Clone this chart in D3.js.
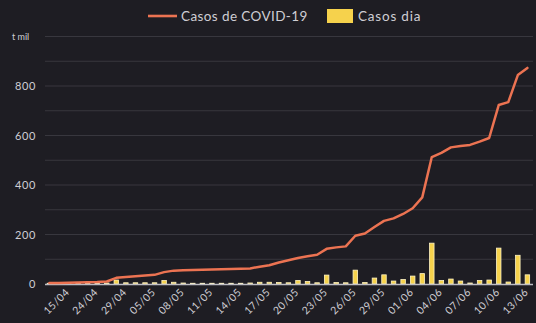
<!DOCTYPE html>
<html>
<head>
<meta charset="utf-8">
<script src="https://cdn.jsdelivr.net/npm/d3@7"></script>
<style>
  html, body { margin: 0; padding: 0; background: #1e1d23; }
  svg { display: block; }
  text { font-family: Lato, "Open Sans", sans-serif; }
</style>
</head>
<body>
<svg id="chart" width="536" height="323"></svg>
<script>
// Dates shown on the category axis (one entry per data point)
const dates = [
  "09/04", "12/04", "15/04", "18/04", "21/04", "24/04", "26/04", "27/04", "29/04",
  "01/05", "03/05", "05/05", "06/05", "07/05", "08/05", "09/05", "10/05", "11/05",
  "12/05", "13/05", "14/05", "15/05", "16/05", "17/05", "18/05", "19/05", "20/05",
  "21/05", "22/05", "23/05", "24/05", "25/05", "26/05", "27/05", "28/05", "29/05",
  "30/05", "31/05", "01/06", "02/06", "03/06", "04/06", "05/06", "06/06", "07/06",
  "08/06", "09/06", "10/06", "11/06", "12/06", "13/06"
];

// Accumulated cases (thousands)
const cumulative = [
  4, 4, 5, 6, 7, 8, 10, 25, 28,
  31, 34, 37, 48, 54, 56, 57, 58, 59,
  60, 61, 62, 63, 70, 76, 87, 96, 105,
  112, 118, 142, 148, 152, 195, 204, 230, 255,
  265, 283, 306, 350, 513, 530, 552, 558, 562,
  575, 590, 723, 735, 844, 873
];

// New cases per day (thousands)
const daily = [
  1, 1, 1, 1, 1, 1, 2, 14, 3,
  3, 3, 3, 12, 5, 2, 1, 1, 1,
  1, 1, 1, 2, 5, 5, 4, 3, 12,
  8, 3, 34, 4, 3, 54, 4, 22, 35,
  10, 16, 30, 40, 163, 12, 18, 10, 2,
  12, 14, 143, 6, 114, 35
];

const yTicks = [0, 100, 200, 300, 400, 500, 600, 700, 800, 900, 1000];
const yLabels = [0, 200, 400, 600, 800];
const yUnit = "t mil";
const seriesNames = ["Casos de COVID-19", "Casos dia"];
const colors = { line: "#ec7352", bar: "#f6d24c", barEdge: "#fff4c4", grid: "#38373e", axis: "#bdbcc2", text: "#cfced4" };

const svg = d3.select("#chart");
const W = 536, H = 323;
const plot = { left: 45, right: 533, top: 36.5, bottom: 284 };

const x = d3.scalePoint().domain(dates).range([49.4, 527.4]);
const y = d3.scaleLinear().domain([0, 1000]).range([plot.bottom, plot.top]);

svg.append("rect").attr("width", W).attr("height", H).attr("fill", "#1e1d23");

// Horizontal gridlines
svg.append("g").selectAll("line").data(yTicks.filter(d => d > 0)).join("line")
  .attr("x1", plot.left).attr("x2", plot.right)
  .attr("y1", d => y(d)).attr("y2", d => y(d))
  .attr("stroke", colors.grid).attr("stroke-width", 1.2);

// Y labels
svg.append("g").selectAll("text").data(yLabels).join("text")
  .attr("x", 36).attr("y", d => y(d) + 4)
  .attr("text-anchor", "end").attr("font-size", 11).attr("letter-spacing", 0.6)
  .attr("fill", colors.text)
  .text(d => d);
svg.append("text").attr("x", 12).attr("y", y(1000) + 3)
  .attr("font-size", 9).attr("fill", colors.text).text(yUnit);

// Daily bars
const barW = 4.5;
svg.append("g").selectAll("rect").data(dates).join("rect")
  .attr("x", d => x(d) - barW / 2)
  .attr("width", barW)
  .attr("y", (d, i) => y(daily[i]) - 0.5)
  .attr("height", (d, i) => Math.max(0, y(0) - y(daily[i])) + 0.5)
  .attr("fill", colors.bar)
  .attr("stroke", colors.barEdge).attr("stroke-width", 0.8);

// X axis line
svg.append("line")
  .attr("x1", plot.left).attr("x2", plot.right)
  .attr("y1", plot.bottom + 0.5).attr("y2", plot.bottom + 0.5)
  .attr("stroke", colors.axis).attr("stroke-width", 1.5);

// Accumulated cases line
const line = d3.line().x((d, i) => x(dates[i])).y(d => y(d));
svg.append("path").datum(cumulative)
  .attr("d", line).attr("fill", "none")
  .attr("stroke", colors.line).attr("stroke-width", 2.5)
  .attr("stroke-linejoin", "round").attr("stroke-linecap", "round");

// X labels every third category
svg.append("g").selectAll("text")
  .data(dates.filter((d, i) => i % 3 === 2)).join("text")
  .attr("transform", d => `translate(${x(d) + 1.5},293) rotate(-45)`)
  .attr("text-anchor", "end").attr("font-size", 10.5).attr("letter-spacing", 0.4)
  .attr("fill", colors.text)
  .text(d => d);

// Legend
const lg = svg.append("g");
lg.append("line").attr("x1", 148).attr("x2", 177).attr("y1", 16).attr("y2", 16)
  .attr("stroke", colors.line).attr("stroke-width", 2.6);
lg.append("text").attr("x", 181).attr("y", 20.5).attr("font-size", 13.5)
  .attr("letter-spacing", 0.4).attr("fill", colors.text).text(seriesNames[0]);
lg.append("rect").attr("x", 327).attr("y", 9).attr("width", 26).attr("height", 14)
  .attr("fill", colors.bar);
lg.append("text").attr("x", 358).attr("y", 20.5).attr("font-size", 13.5)
  .attr("letter-spacing", 0.8).attr("fill", colors.text).text(seriesNames[1]);
</script>
</body>
</html>
